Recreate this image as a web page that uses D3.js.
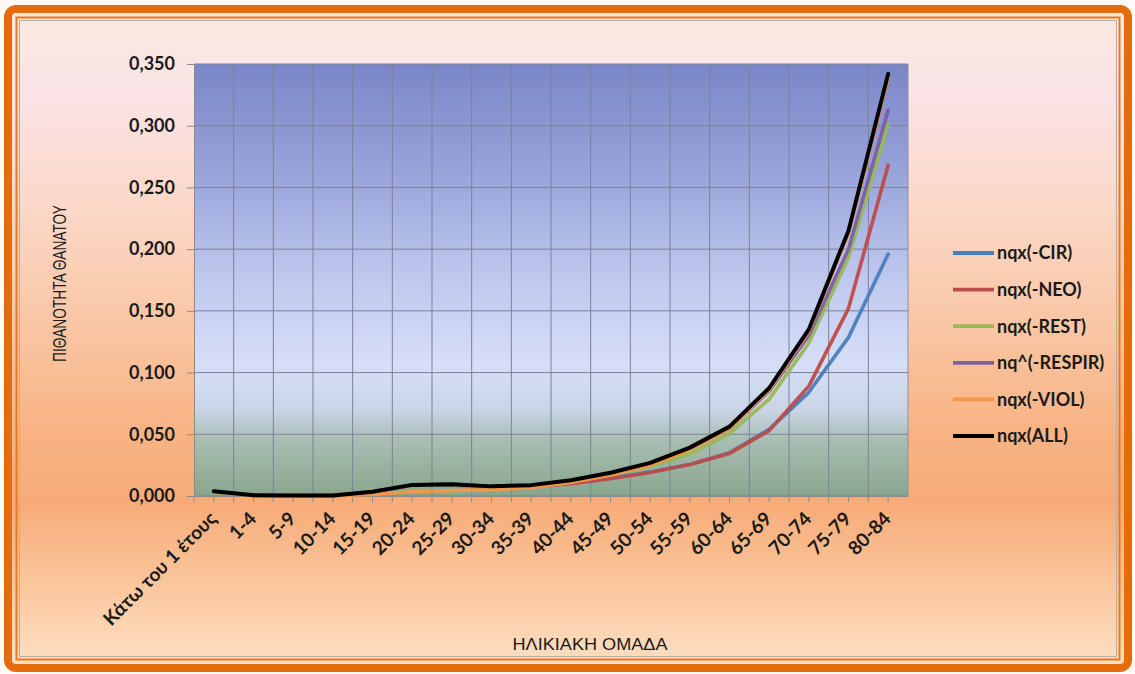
<!DOCTYPE html>
<html><head><meta charset="utf-8">
<script src="https://cdn.jsdelivr.net/npm/d3@7/dist/d3.min.js"></script>
<style>
html,body{margin:0;padding:0;background:#fff;}
svg{display:block;}
text{font-family:Lato,"Open Sans",sans-serif;}
</style></head>
<body>
<script>
const ages = ["Κάτω του 1 έτους","1-4","5-9","10-14","15-19","20-24","25-29","30-34","35-39","40-44","45-49","50-54","55-59","60-64","65-69","70-74","75-79","80-84"];
const seriesNames = ["nqx(-CIR)","nqx(-NEO)","nqx(-REST)","nq^(-RESPIR)","nqx(-VIOL)","nqx(ALL)"];
const cir    = [0.0037,0.0006,0.0004,0.0004,0.0034,0.0088,0.0092,0.0073,0.0078,0.0105,0.0145,0.0195,0.0255,0.0350,0.0540,0.0840,0.1285,0.1960];
const neo    = [0.0036,0.0005,0.0003,0.0003,0.0033,0.0087,0.0090,0.0070,0.0076,0.0100,0.0140,0.0190,0.0255,0.0345,0.0530,0.0890,0.1520,0.2680];
const rest   = [0.0030,0.0005,0.0003,0.0003,0.0032,0.0086,0.0090,0.0072,0.0082,0.0115,0.0170,0.0240,0.0340,0.0505,0.0785,0.1240,0.1930,0.3010];
const respir = [0.0037,0.0006,0.0004,0.0004,0.0034,0.0089,0.0094,0.0076,0.0086,0.0122,0.0180,0.0258,0.0380,0.0545,0.0850,0.1300,0.2000,0.3125];
const viol   = [0.0036,0.0004,0.0003,0.0003,0.0012,0.0035,0.0045,0.0050,0.0068,0.0110,0.0170,0.0250,0.0375,0.0545,0.0860,0.1335,0.2130,0.3390];
const all    = [0.0038,0.0006,0.0004,0.0004,0.0035,0.0090,0.0095,0.0078,0.0088,0.0128,0.0188,0.0268,0.0392,0.0562,0.0875,0.1350,0.2150,0.3420];
const yTicks = [0,0.05,0.10,0.15,0.20,0.25,0.30,0.35];
const yTickLabels = ["0,000","0,050","0,100","0,150","0,200","0,250","0,300","0,350"];
const colors = ["#4a7ebb","#be4b48","#98b954","#7d60a0","#f79646","#000000"];
const seriesData = [cir,neo,rest,respir,viol,all];

const W=1135,H=674;
const svg=d3.select("body").append("svg").attr("width",W).attr("height",H);
const defs=svg.append("defs");

const bg=defs.append("linearGradient").attr("id","bg").attr("x1",0).attr("y1",0).attr("x2",0).attr("y2",1);
[[0,"#fbe9dd"],[0.13,"#fbe3e6"],[0.3,"#fbd8c8"],[0.5,"#f9c4a0"],[0.65,"#f8b282"],[0.75,"#f7ab78"],[0.88,"#fbc89f"],[1,"#fde0c4"]]
 .forEach(s=>bg.append("stop").attr("offset",s[0]).attr("stop-color",s[1]));

const pg=defs.append("linearGradient").attr("id","pg").attr("x1",0).attr("y1",0).attr("x2",0).attr("y2",1);
[[0,"#7b86c7"],[0.25,"#98a3da"],[0.5,"#bfc9ee"],[0.7,"#d6def8"],[0.8,"#c9d5e6"],[0.87,"#a9bdb3"],[1,"#88a68c"]]
 .forEach(s=>pg.append("stop").attr("offset",s[0]).attr("stop-color",s[1]));

// frame
svg.append("rect").attr("x",0).attr("y",0).attr("width",W).attr("height",H).attr("fill","#fdfaf8");
svg.append("rect").attr("x",8).attr("y",9).attr("width",W-15).attr("height",H-15).attr("rx",8)
  .attr("fill","url(#bg)").attr("stroke","#e46c0a").attr("stroke-width",8);
svg.append("rect").attr("x",16.5).attr("y",17.5).attr("width",W-32).attr("height",H-32)
  .attr("fill","none").attr("stroke","#e8791e").attr("stroke-width",2);
svg.append("rect").attr("x",19.5).attr("y",20.5).attr("width",W-38).attr("height",H-38)
  .attr("fill","none").attr("stroke","#b9aca0").attr("stroke-width",1);

const L=194,R=908,T=64,B=496;
const x=d3.scaleBand().domain(ages).range([L,R]).padding(0);
const y=d3.scaleLinear().domain([0,0.35]).range([B,T]);

svg.append("rect").attr("x",L).attr("y",T).attr("width",R-L).attr("height",B-T).attr("fill","url(#pg)");

// gridlines
const g=svg.append("g");
g.selectAll(".hg").data(yTicks).join("line")
  .attr("x1",L).attr("x2",R).attr("y1",d=>y(d)).attr("y2",d=>y(d))
  .attr("stroke","#7d8196").attr("stroke-width",1);
g.selectAll(".vg").data(ages.slice(1)).join("line")
  .attr("x1",d=>x(d)).attr("x2",d=>x(d)).attr("y1",T).attr("y2",B)
  .attr("stroke","#7d8196").attr("stroke-width",1);
g.append("line").attr("x1",R).attr("x2",R).attr("y1",T).attr("y2",B).attr("stroke","#8a8ea8").attr("stroke-width",1);

// axes
const yAxis=d3.axisLeft(y).tickValues(yTicks).tickFormat((d,i)=>yTickLabels[i]).tickSize(7).tickPadding(12);
const ya=svg.append("g").attr("transform",`translate(${L},0)`).call(yAxis);
ya.select(".domain").attr("stroke","#8a8a8a");
ya.selectAll(".tick line").attr("stroke","#8a8a8a");
ya.selectAll("text").attr("font-size",18).attr("fill","#1a1a1a").attr("font-weight","bold").style("font-family","Lato");

const xAxis=d3.axisBottom(x).tickSize(6).tickSizeOuter(0);
const xa=svg.append("g").attr("transform",`translate(0,${B})`).call(xAxis);
xa.select(".domain").attr("stroke","#8a8a8a");
xa.selectAll(".tick line").attr("stroke","#8a8a8a");
xa.selectAll(".bt").data(ages).join("line")
  .attr("x1",d=>x(d)).attr("x2",d=>x(d)).attr("y1",0).attr("y2",6).attr("stroke","#8a8a8a");
xa.selectAll("text")
  .attr("font-size",19).attr("fill","#1a1a1a").attr("font-weight","bold")
  .attr("text-anchor","end").attr("dy",0).attr("y",0)
  .attr("transform","translate(4,24) rotate(-45)");

// lines
const line=d3.line().x((d,i)=>x(ages[i])+x.bandwidth()/2).y(d=>y(d));
const lg=svg.append("g");
seriesData.forEach((s,k)=>{
  lg.append("path").datum(s).attr("d",line).attr("fill","none")
    .attr("stroke",colors[k]).attr("stroke-width",k===5?4:3.6)
    .attr("stroke-linejoin","round").attr("stroke-linecap","round").attr("opacity",k===5?1:0.95);
});

// axis titles
svg.append("text").attr("transform","translate(66,283.5) rotate(-90)").attr("text-anchor","middle")
  .attr("font-size",19).style("font-family","'Liberation Sans',Arial,sans-serif").attr("fill","#1a1a1a")
  .attr("textLength",157).attr("lengthAdjust","spacingAndGlyphs").text("ΠΙΘΑΝΟΤΗΤΑ  ΘΑΝΑΤΟΥ");
svg.append("text").attr("x",590).attr("y",650).attr("text-anchor","middle")
  .attr("font-size",17).style("font-family","'Liberation Sans',Arial,sans-serif").attr("fill","#1a1a1a")
  .attr("textLength",155).attr("lengthAdjust","spacingAndGlyphs").text("ΗΛΙΚΙΑΚΗ ΟΜΑΔΑ");

// legend
const leg=svg.append("g");
seriesNames.forEach((n,k)=>{
  const yy=253+k*36.6;
  leg.append("line").attr("x1",953).attr("x2",994).attr("y1",yy).attr("y2",yy)
    .attr("stroke",colors[k]).attr("stroke-width",3.8);
  leg.append("text").attr("x",997).attr("y",yy).attr("dy","0.35em")
    .attr("font-size",18).attr("font-weight","bold").attr("fill","#1a1a1a").text(n);
});
</script>
</body></html>
